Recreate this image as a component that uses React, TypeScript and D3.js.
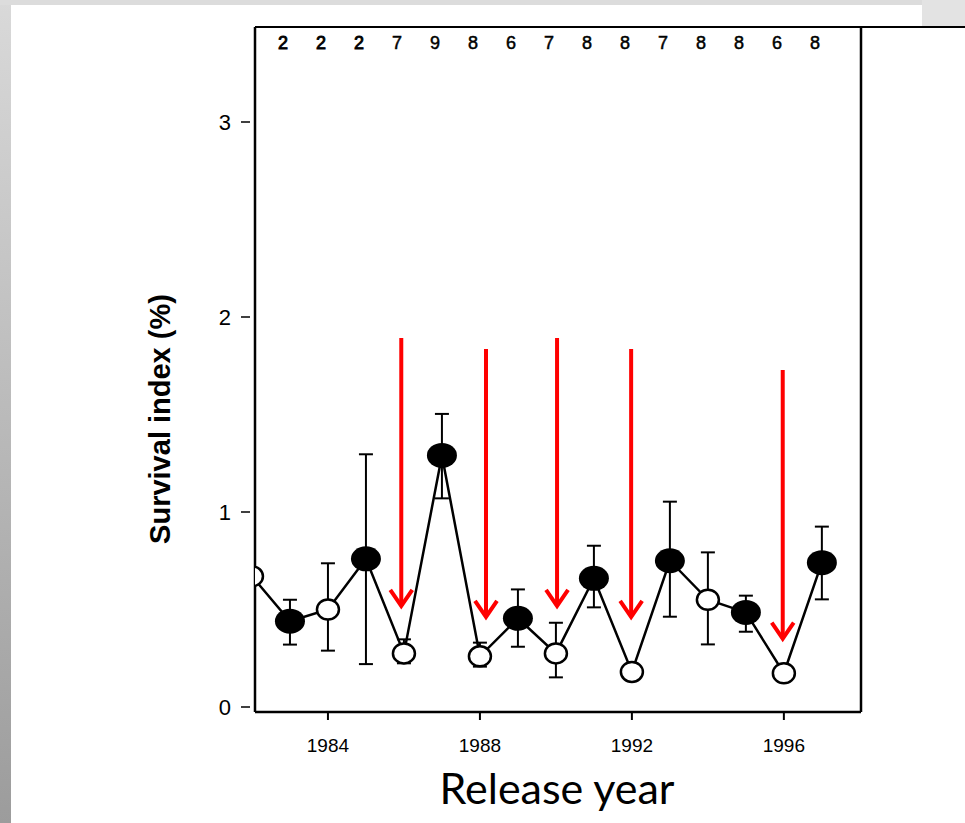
import React from "react";
import * as d3 from "d3";

const years = [1982, 1983, 1984, 1985, 1986, 1987, 1988, 1989, 1990, 1991, 1992, 1993, 1994, 1995, 1996, 1997];
const survival = [0.67, 0.44, 0.50, 0.76, 0.275, 1.29, 0.26, 0.455, 0.275, 0.66, 0.18, 0.75, 0.55, 0.485, 0.173, 0.74];
const errHigh = [null, 0.55, 0.737, 1.296, 0.347, 1.503, 0.33, 0.603, 0.432, 0.827, null, 1.053, 0.793, 0.571, null, 0.925];
const errLow = [null, 0.32, 0.289, 0.22, 0.224, 1.07, 0.207, 0.309, 0.152, 0.511, null, 0.463, 0.321, 0.386, null, 0.552];
const filled = [false, true, false, true, false, true, false, true, false, true, false, true, false, true, false, true];

const sampleYears = [1983, 1984, 1985, 1986, 1987, 1988, 1989, 1990, 1991, 1992, 1993, 1994, 1995, 1996, 1997];
const sampleCounts = ["2", "2", "2", "7", "9", "8", "6", "7", "8", "8", "7", "8", "8", "6", "8"];

const yTicks = [0, 1, 2, 3];
const xTicks = [1984, 1988, 1992, 1996];

// red arrows: year, top value, tip value
const arrowYears = [1985.93, 1988.16, 1990.03, 1991.98, 1995.97];
const arrowTop = [1.892, 1.836, 1.892, 1.836, 1.728];
const arrowTip = [0.508, 0.452, 0.508, 0.452, 0.34];

export default function App() {
  const W = 965;
  const H = 823;
  const left = 255, right = 861, top = 27, bottom = 712;
  const x = d3.scaleLinear().domain([1982.08, 1998.03]).range([left, right]);
  const y = d3.scaleLinear().domain([0, 3]).range([707, 122]);
  const pts = years.map((yr, i) => ({ yr, v: survival[i], f: filled[i], hi: errHigh[i], lo: errLow[i] }));
  const line = d3.line<any>().x((d) => x(d.yr)).y((d) => y(d.v));
  const arial = "'Liberation Sans', Arial, sans-serif";

  return (
    <svg width={W} height={H} style={{ position: "absolute", left: 0, top: 0 }}>
      <defs>
        <linearGradient id="bg" x1="0" y1="0" x2="0" y2="1">
          <stop offset="0" stopColor="#d9d9d9" />
          <stop offset="1" stopColor="#9c9c9c" />
        </linearGradient>
        <clipPath id="plot">
          <rect x={left} y={top} width={right - left} height={bottom - top} />
        </clipPath>
      </defs>
      <rect x={0} y={0} width={W} height={H} fill="url(#bg)" />
      <rect x={0} y={0} width={W} height={5} fill="#dcdcdc" />
      <rect x={11} y={5} width={W - 11} height={H - 5} fill="#ffffff" />
      <rect x={922} y={0} width={W - 922} height={26} fill="#e3e3e3" />

      {/* frame */}
      <line x1={left} x2={W} y1={top} y2={top} stroke="#000" strokeWidth={2} />
      <line x1={left} x2={left} y1={top} y2={bottom} stroke="#000" strokeWidth={2.5} />
      <line x1={right} x2={right} y1={top} y2={bottom} stroke="#000" strokeWidth={2.5} />
      <line x1={left} x2={right} y1={bottom} y2={bottom} stroke="#000" strokeWidth={2.5} />

      {/* y ticks */}
      {yTicks.map((t) => (
        <g key={t}>
          <line x1={241} x2={250} y1={y(t)} y2={y(t)} stroke="#000" strokeWidth={1.5} />
          <text x={231} y={y(t) + 8} textAnchor="end" fontFamily={arial} fontSize={22} fill="#000">
            {t}
          </text>
        </g>
      ))}

      {/* x ticks */}
      {xTicks.map((t) => (
        <g key={t}>
          <line x1={x(t)} x2={x(t)} y1={bottom} y2={bottom + 8} stroke="#000" strokeWidth={2} />
          <text x={x(t)} y={752} textAnchor="middle" fontFamily={arial} fontSize={19} fill="#000">
            {t}
          </text>
        </g>
      ))}

      {/* sample counts */}
      {sampleYears.map((yr, i) => (
        <text
          key={yr}
          x={x(yr - 0.18)}
          y={49}
          textAnchor="middle"
          fontFamily={arial}
          fontSize={18}
          fill="#000"
          stroke="#000"
          strokeWidth={i < 3 ? 0.9 : 0.5}
        >
          {sampleCounts[i]}
        </text>
      ))}

      <g clipPath="url(#plot)">
        <path d={line(pts) || ""} fill="none" stroke="#000" strokeWidth={2.5} />
        {pts.map((p) =>
          p.hi != null && p.lo != null ? (
            <g key={"e" + p.yr} stroke="#000" strokeWidth={2}>
              <line x1={x(p.yr)} x2={x(p.yr)} y1={y(p.hi)} y2={y(p.lo)} />
              <line x1={x(p.yr) - 7} x2={x(p.yr) + 7} y1={y(p.hi)} y2={y(p.hi)} />
              <line x1={x(p.yr) - 7} x2={x(p.yr) + 7} y1={y(p.lo)} y2={y(p.lo)} />
            </g>
          ) : null
        )}
        {pts.map((p) =>
          p.f ? (
            <ellipse key={"m" + p.yr} cx={x(p.yr)} cy={y(p.v)} rx={15} ry={12.5} fill="#000" />
          ) : (
            <ellipse key={"m" + p.yr} cx={x(p.yr)} cy={y(p.v)} rx={11} ry={10} fill="#fff" stroke="#000" strokeWidth={2.5} />
          )
        )}
      </g>

      {/* red arrows */}
      {arrowYears.map((ay, i) => {
        const ax = x(ay);
        const tip = y(arrowTip[i]);
        return (
          <g key={"a" + i} stroke="#ff0000" strokeWidth={4} fill="none">
            <line x1={ax} x2={ax} y1={y(arrowTop[i])} y2={tip - 2} />
            <polyline points={`${ax - 11},${tip - 18} ${ax},${tip - 2} ${ax + 11},${tip - 18}`} />
          </g>
        );
      })}

      <text
        transform={`translate(170,419) rotate(-90)`}
        textAnchor="middle"
        fontFamily={arial}
        fontWeight="bold"
        fontSize={29}
        fill="#000"
      >
        Survival index (%)
      </text>

      <text x={557} y={804} textAnchor="middle" fontFamily="Lato, 'Open Sans', sans-serif" fontSize={43} fill="#000">
        Release year
      </text>
    </svg>
  );
}
